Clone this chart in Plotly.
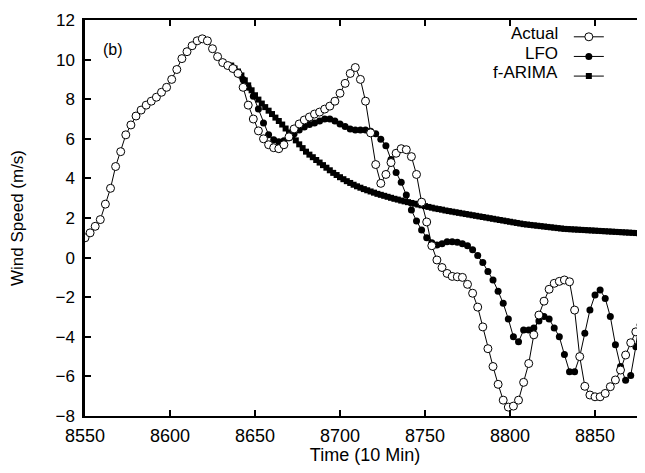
import plotly.graph_objects as go

# time steps (10 min) and wind speed (m/s)
actual_t = list(range(8550, 8881, 3))
actual_v = [
    1.0, 1.25, 1.58, 1.92, 2.7, 3.5, 4.6, 5.35, 6.2, 6.7,
    7.15, 7.45, 7.7, 7.9, 8.1, 8.35, 8.6, 9.0, 9.5, 10.05,
    10.4, 10.7, 10.95, 11.05, 10.95, 10.55, 10.15, 9.85, 9.7, 9.55,
    9.3, 8.6, 7.7, 7.0, 6.4, 6.0, 5.7, 5.55, 5.5, 5.7,
    6.1, 6.5, 6.75, 6.95, 7.1, 7.25, 7.35, 7.5, 7.65, 7.9,
    8.3, 8.8, 9.3, 9.6, 9.0, 7.9, 6.3, 4.7, 3.75, 4.2,
    4.8, 5.27, 5.5, 5.45, 5.1, 4.2, 2.8, 1.8, 0.6, -0.12,
    -0.5, -0.8, -0.95, -0.97, -1.0, -1.35, -1.8, -2.5, -3.5, -4.6,
    -5.5, -6.4, -7.2, -7.55, -7.5, -7.2, -6.3, -5.35, -3.9, -2.9,
    -2.2, -1.6, -1.3, -1.2, -1.13, -1.22, -2.65, -5.0, -6.5, -6.94,
    -7.03, -7.03, -6.86, -6.52, -6.18, -5.68, -4.92, -4.3, -3.75, -3.4,
    -3.1,
]

lfo_t = list(range(8640, 8881, 3))
lfo_v = [
    9.35, 9.0, 8.6, 8.15, 7.5, 6.8, 6.2, 5.95, 5.85, 5.9,
    6.05, 6.25, 6.45, 6.6, 6.72, 6.8, 6.9, 7.0, 7.0, 6.9,
    6.75, 6.62, 6.5, 6.45, 6.44, 6.44, 6.38, 6.25, 5.98, 5.65,
    4.95, 4.3, 3.8, 3.16, 2.4, 1.85, 1.4, 1.0, 0.75, 0.64,
    0.7, 0.8, 0.8, 0.78, 0.7, 0.6, 0.4, 0.1, -0.25, -0.7,
    -1.13, -1.7, -2.31, -3.1, -4.0, -4.25, -3.66, -3.66, -3.55, -3.2,
    -2.98, -3.1, -3.55, -4.0, -4.9, -5.76, -5.76, -5.0, -3.82, -2.65,
    -1.89, -1.64, -2.06, -2.98, -4.4, -5.5, -6.2, -5.95, -4.5, -2.6,
    -0.4,
]

arima_t = list(range(8636, 8881, 2))
arima_v = [
    9.7, 9.55, 9.4, 9.2, 8.95, 8.7, 8.45, 8.2, 7.98, 7.78,
    7.6, 7.42, 7.25, 7.07, 6.9, 6.72, 6.52, 6.32, 6.12, 5.92,
    5.72, 5.53, 5.35, 5.2, 5.07, 4.93, 4.8, 4.67, 4.54, 4.41,
    4.28, 4.17, 4.06, 3.96, 3.86, 3.77, 3.68, 3.6, 3.53, 3.46,
    3.4, 3.34, 3.28, 3.22, 3.17, 3.12, 3.07, 3.02, 2.97, 2.93,
    2.88, 2.84, 2.8, 2.76, 2.72, 2.68, 2.64, 2.6, 2.56, 2.52,
    2.48, 2.45, 2.42, 2.38, 2.35, 2.32, 2.29, 2.26, 2.23, 2.2,
    2.17, 2.14, 2.11, 2.08, 2.05, 2.02, 1.99, 1.96, 1.93, 1.9,
    1.87, 1.84, 1.81, 1.78, 1.75, 1.72, 1.69, 1.67, 1.65, 1.63,
    1.61, 1.59, 1.57, 1.55, 1.53, 1.51, 1.49, 1.47, 1.45, 1.44,
    1.43, 1.42, 1.41, 1.40, 1.39, 1.38, 1.37, 1.36, 1.35, 1.34,
    1.33, 1.32, 1.31, 1.30, 1.29, 1.28, 1.27, 1.26, 1.25, 1.24,
    1.23, 1.22, 1.21,
]

x_ticks = [8550, 8600, 8650, 8700, 8750, 8800, 8850]
y_ticks = [-8, -6, -4, -2, 0, 2, 4, 6, 8, 10, 12]
labels = ['Actual', 'LFO', 'f-ARIMA']

FONT = 'Liberation Sans, Arial, sans-serif'

fig = go.Figure()

fig.add_trace(go.Scatter(
    x=arima_t, y=arima_v, mode='lines+markers', name=' ', legendrank=3,
    line=dict(color='black', width=1),
    marker=dict(symbol='square', size=6, color='black'),
))
fig.add_trace(go.Scatter(
    x=lfo_t, y=lfo_v, mode='lines+markers', name=' ', legendrank=2,
    line=dict(color='black', width=1),
    marker=dict(symbol='circle', size=7, color='black'),
))
fig.add_trace(go.Scatter(
    x=actual_t, y=actual_v, mode='lines+markers', name=' ', legendrank=1,
    line=dict(color='black', width=1),
    marker=dict(symbol='circle', size=8, color='white',
                line=dict(color='black', width=1)),
))

# gnuplot-style key: text to the left of the samples
for i, lab in enumerate(labels):
    fig.add_annotation(
        x=0.848, y=0.965 - i * 0.049, xref='paper', yref='paper',
        xanchor='right', yanchor='middle', text=lab, showarrow=False,
        font=dict(family=FONT, size=17, color='black'),
    )

fig.add_annotation(
    x=0.05, y=0.925, xref='paper', yref='paper', xanchor='center',
    yanchor='middle', text='(b)', showarrow=False,
    font=dict(family=FONT, size=16, color='black'),
)

# the page body has an 8px margin, so the figure is shifted by that much
fig.update_layout(
    width=637, height=457,
    margin=dict(l=77, r=0, t=12, b=49),
    paper_bgcolor='white', plot_bgcolor='white',
    font=dict(family=FONT, size=17, color='black'),
    showlegend=True,
    legend=dict(x=0.864, y=0.995, xanchor='left', yanchor='top',
                bgcolor='rgba(0,0,0,0)', font=dict(size=12.8),
                tracegroupgap=0),
)

fig.update_xaxes(
    range=[8550, 8879.4], tickvals=x_ticks, automargin=False,
    ticks='inside', ticklen=6, tickwidth=2, tickcolor='black',
    showline=True, linecolor='black', linewidth=2, mirror='ticks',
    showgrid=False, zeroline=False, ticklabelstandoff=2,
    tickfont=dict(family=FONT, size=18),
    title=dict(text='Time (10 Min)', standoff=5,
               font=dict(family=FONT, size=18)),
)
fig.update_yaxes(
    range=[-8, 12], tickvals=y_ticks, automargin=False,
    ticks='inside', ticklen=6, tickwidth=2, tickcolor='black',
    showline=True, linecolor='black', linewidth=2.5, mirror='ticks',
    showgrid=False, zeroline=False, ticklabelstandoff=4,
    tickfont=dict(family=FONT, size=17),
    title=dict(text='Wind Speed (m/s)', standoff=30,
               font=dict(family=FONT, size=17)),
)

fig.write_html('out.html')
